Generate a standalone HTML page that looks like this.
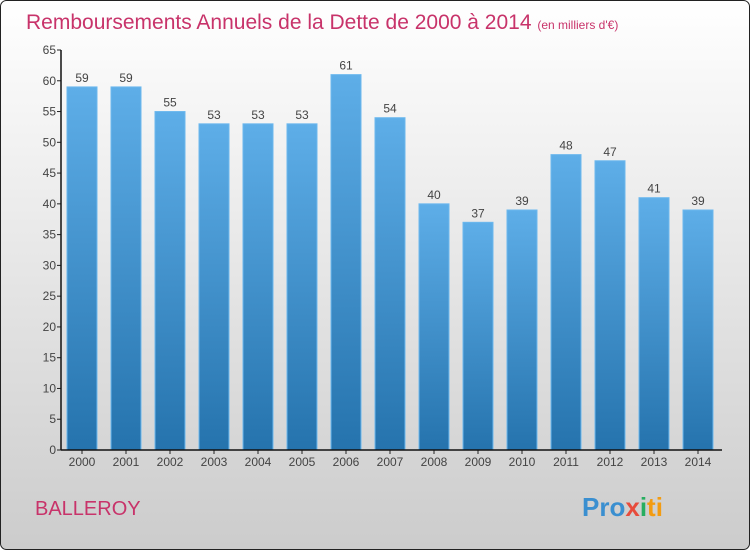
<!DOCTYPE html>
<html><head><meta charset="utf-8"><style>
body{margin:0;width:750px;height:550px;overflow:hidden;font-family:"Liberation Sans",sans-serif}
</style></head><body>
<svg id="chart" width="750" height="550" xmlns="http://www.w3.org/2000/svg">
<defs>
<linearGradient id="bg" x1="0" y1="0" x2="0" y2="1"><stop offset="0" stop-color="#ffffff"/><stop offset="1" stop-color="#cccccc"/></linearGradient>
<linearGradient id="bar" x1="0" y1="0" x2="0" y2="1"><stop offset="0" stop-color="#5eaee8"/><stop offset="1" stop-color="#2573ad"/></linearGradient>
</defs>
<rect x="0.5" y="0.5" width="749" height="549" rx="6" fill="url(#bg)" stroke="#222"/>
<text x="26" y="29" font-size="21" fill="#c8336a">Remboursements Annuels de la Dette de 2000 à 2014 <tspan font-size="12">(en milliers d'€)</tspan></text>
<text x="35" y="515" font-size="20" fill="#c8336a">BALLEROY</text>
<text x="582" y="516" font-size="26" font-weight="bold" fill="#f39c12"><tspan fill="#3a8fd0">Pro</tspan><tspan fill="#e74c3c">x</tspan><tspan fill="#27ae60">i</tspan><tspan fill="#f39c12">ti</tspan></text>
<g id="plot"></g>
</svg>
<script>
const categories=["2000","2001","2002","2003","2004","2005","2006","2007","2008","2009","2010","2011","2012","2013","2014"];
const values=[59,59,55,53,53,53,61,54,40,37,39,48,47,41,39];
const ticks=[0,5,10,15,20,25,30,35,40,45,50,55,60,65];
const NS="http://www.w3.org/2000/svg";
const g=document.getElementById('plot');
const y0=450,yTop=50,vmax=65,x0=61,x1=722;
const y=v=>y0-(v/vmax)*(y0-yTop);
const step=44,first=82,bw=30;
const x=i=>first+i*step;
function el(t,a){const e=document.createElementNS(NS,t);for(const k in a)e.setAttribute(k,a[k]);g.appendChild(e);return e;}
ticks.forEach(t=>{
 const l=el('line',{x1:x0-4,x2:x0,y1:y(t),y2:y(t),stroke:'#222'});
 
 
 const tx=el('text',{x:x0-5,y:y(t)+4,'font-size':12,'text-anchor':'end',fill:'#444'});
 tx.textContent=t;
 
 
});
values.forEach((v,i)=>{
 const r=el('rect',{x:x(i)-bw/2,y:y(v),width:bw,height:y0-y(v),fill:'url(#bar)',stroke:'#6cb8ee','stroke-width':1});
 
 
 const lb=el('text',{x:x(i),y:y(v)-5,'font-size':12,'text-anchor':'middle',fill:'#444'});
 lb.textContent=v;
 
 
 const tk=el('line',{x1:x(i),x2:x(i),y1:y0,y2:y0+4,stroke:'#222'});
 
 
 const cl=el('text',{x:x(i),y:y0+16,'font-size':12,'text-anchor':'middle',fill:'#444'});
 cl.textContent=categories[i];
 
 
});
const ya=el('line',{x1:x0,x2:x0,y1:yTop,y2:y0,stroke:'#111','stroke-width':1.5});


const xa=el('line',{x1:x0,x2:x1,y1:y0,y2:y0,stroke:'#111','stroke-width':1.5});


</script>
</body></html>
